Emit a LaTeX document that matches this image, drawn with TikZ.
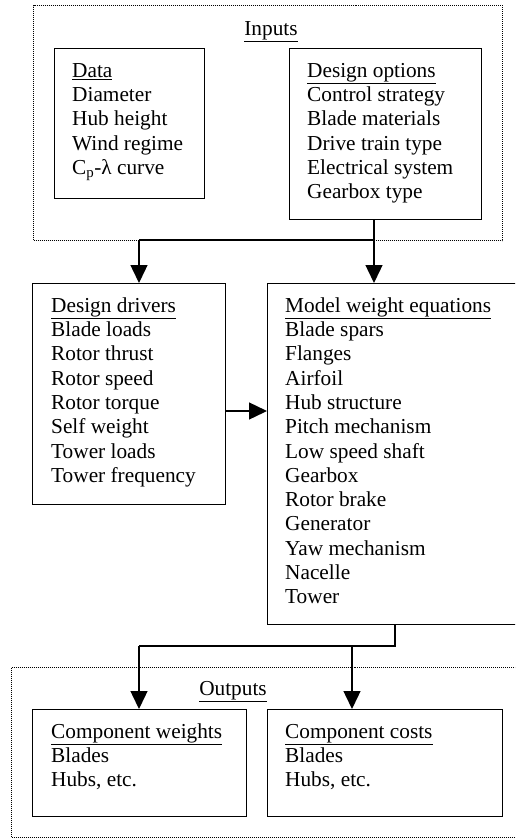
\documentclass[tikz,border=0pt]{standalone}
\usepackage{fontspec}
\setmainfont{Liberation Serif}
\usetikzlibrary{arrows.meta}

\begin{document}
\begin{tikzpicture}[x=1pt,y=-1pt,
  every node/.style={font=\fontsize{21.3pt}{24.3pt}\selectfont},
  box/.style={draw,line width=1.4pt,inner sep=0pt,anchor=north west},
  dotbox/.style={draw,line width=1pt,dash pattern=on 1pt off 1pt,inner sep=0pt,anchor=north west},
  txt/.style={inner sep=0pt,align=left,anchor=north west},
  arrow/.style={line width=1.4pt,-{Triangle[length=18pt,width=17pt]}}]
  \useasboundingbox (0,0) rectangle (515,839);
  \clip (0,0) rectangle (515,839);
  % frames
  \node[dotbox,minimum width=469pt,minimum height=235pt] (inputs) at (33,5) {};
  \node[dotbox,minimum width=509pt,minimum height=170pt] (outputs) at (11,667) {};
  \node[box,minimum width=150pt,minimum height=150pt] (data) at (54,48) {};
  \node[box,minimum width=192pt,minimum height=171pt] (options) at (289,48) {};
  \node[box,minimum width=193pt,minimum height=221pt] (drivers) at (32,283) {};
  \node[box,minimum width=253pt,minimum height=341pt] (model) at (267,283) {};
  \node[box,minimum width=214pt,minimum height=107pt] (weights) at (32,709) {};
  \node[box,minimum width=235pt,minimum height=107pt] (costs) at (267,709) {};
  % texts (a strut sets the first baseline 17pt below the top)
  \node[txt,anchor=base] (inputslbl) at (271,35) {\underline{Inputs}};
  \node[txt,anchor=base] (outputslbl) at (233,695) {\underline{Outputs}};
  \node[txt] (datatxt) at (72,60) {\strut\underline{Data}\\Diameter\\Hub height\\Wind regime\\C\textsubscript{p}-λ curve};
  \node[txt] (optionstxt) at (307,60) {\strut\underline{Design options}\\Control strategy\\Blade materials\\Drive train type\\Electrical system\\Gearbox type};
  \node[txt] (driverstxt) at (51,295) {\strut\underline{Design drivers}\\Blade loads\\Rotor thrust\\Rotor speed\\Rotor torque\\Self weight\\Tower loads\\Tower frequency};
  \node[txt] (modeltxt) at (285,295) {\strut\underline{Model weight equations}\\Blade spars\\Flanges\\Airfoil\\Hub structure\\Pitch mechanism\\Low speed shaft\\Gearbox\\Rotor brake\\Generator\\Yaw mechanism\\Nacelle\\Tower};
  \node[txt] (weightstxt) at (51,721) {\strut\underline{Component weights}\\Blades\\Hubs, etc.};
  \node[txt] (coststxt) at (285,721) {\strut\underline{Component costs}\\Blades\\Hubs, etc.};
  % connectors
  \coordinate (jin) at (374,240);
  \coordinate (jleft) at (139,240);
  \coordinate (jmid) at (0,411);
  \coordinate (jout) at (395,646);
  \coordinate (jw) at (139,646);
  \coordinate (jc) at (352,646);
  \draw[line width=1.4pt] (jin |- options.south) -- (jin) -- (jleft);
  \draw[arrow] (jin) -- (jin |- model.north);
  \draw[arrow] (jleft) -- (jleft |- drivers.north);
  \draw[arrow] (drivers.east |- jmid) -- (model.west |- jmid);
  \draw[line width=1.4pt] (jout |- model.south) -- (jout) -- (jw);
  \draw[arrow] (jw) -- (jw |- weights.north);
  \draw[arrow] (jc) -- (jc |- costs.north);
\end{tikzpicture}
\end{document}
